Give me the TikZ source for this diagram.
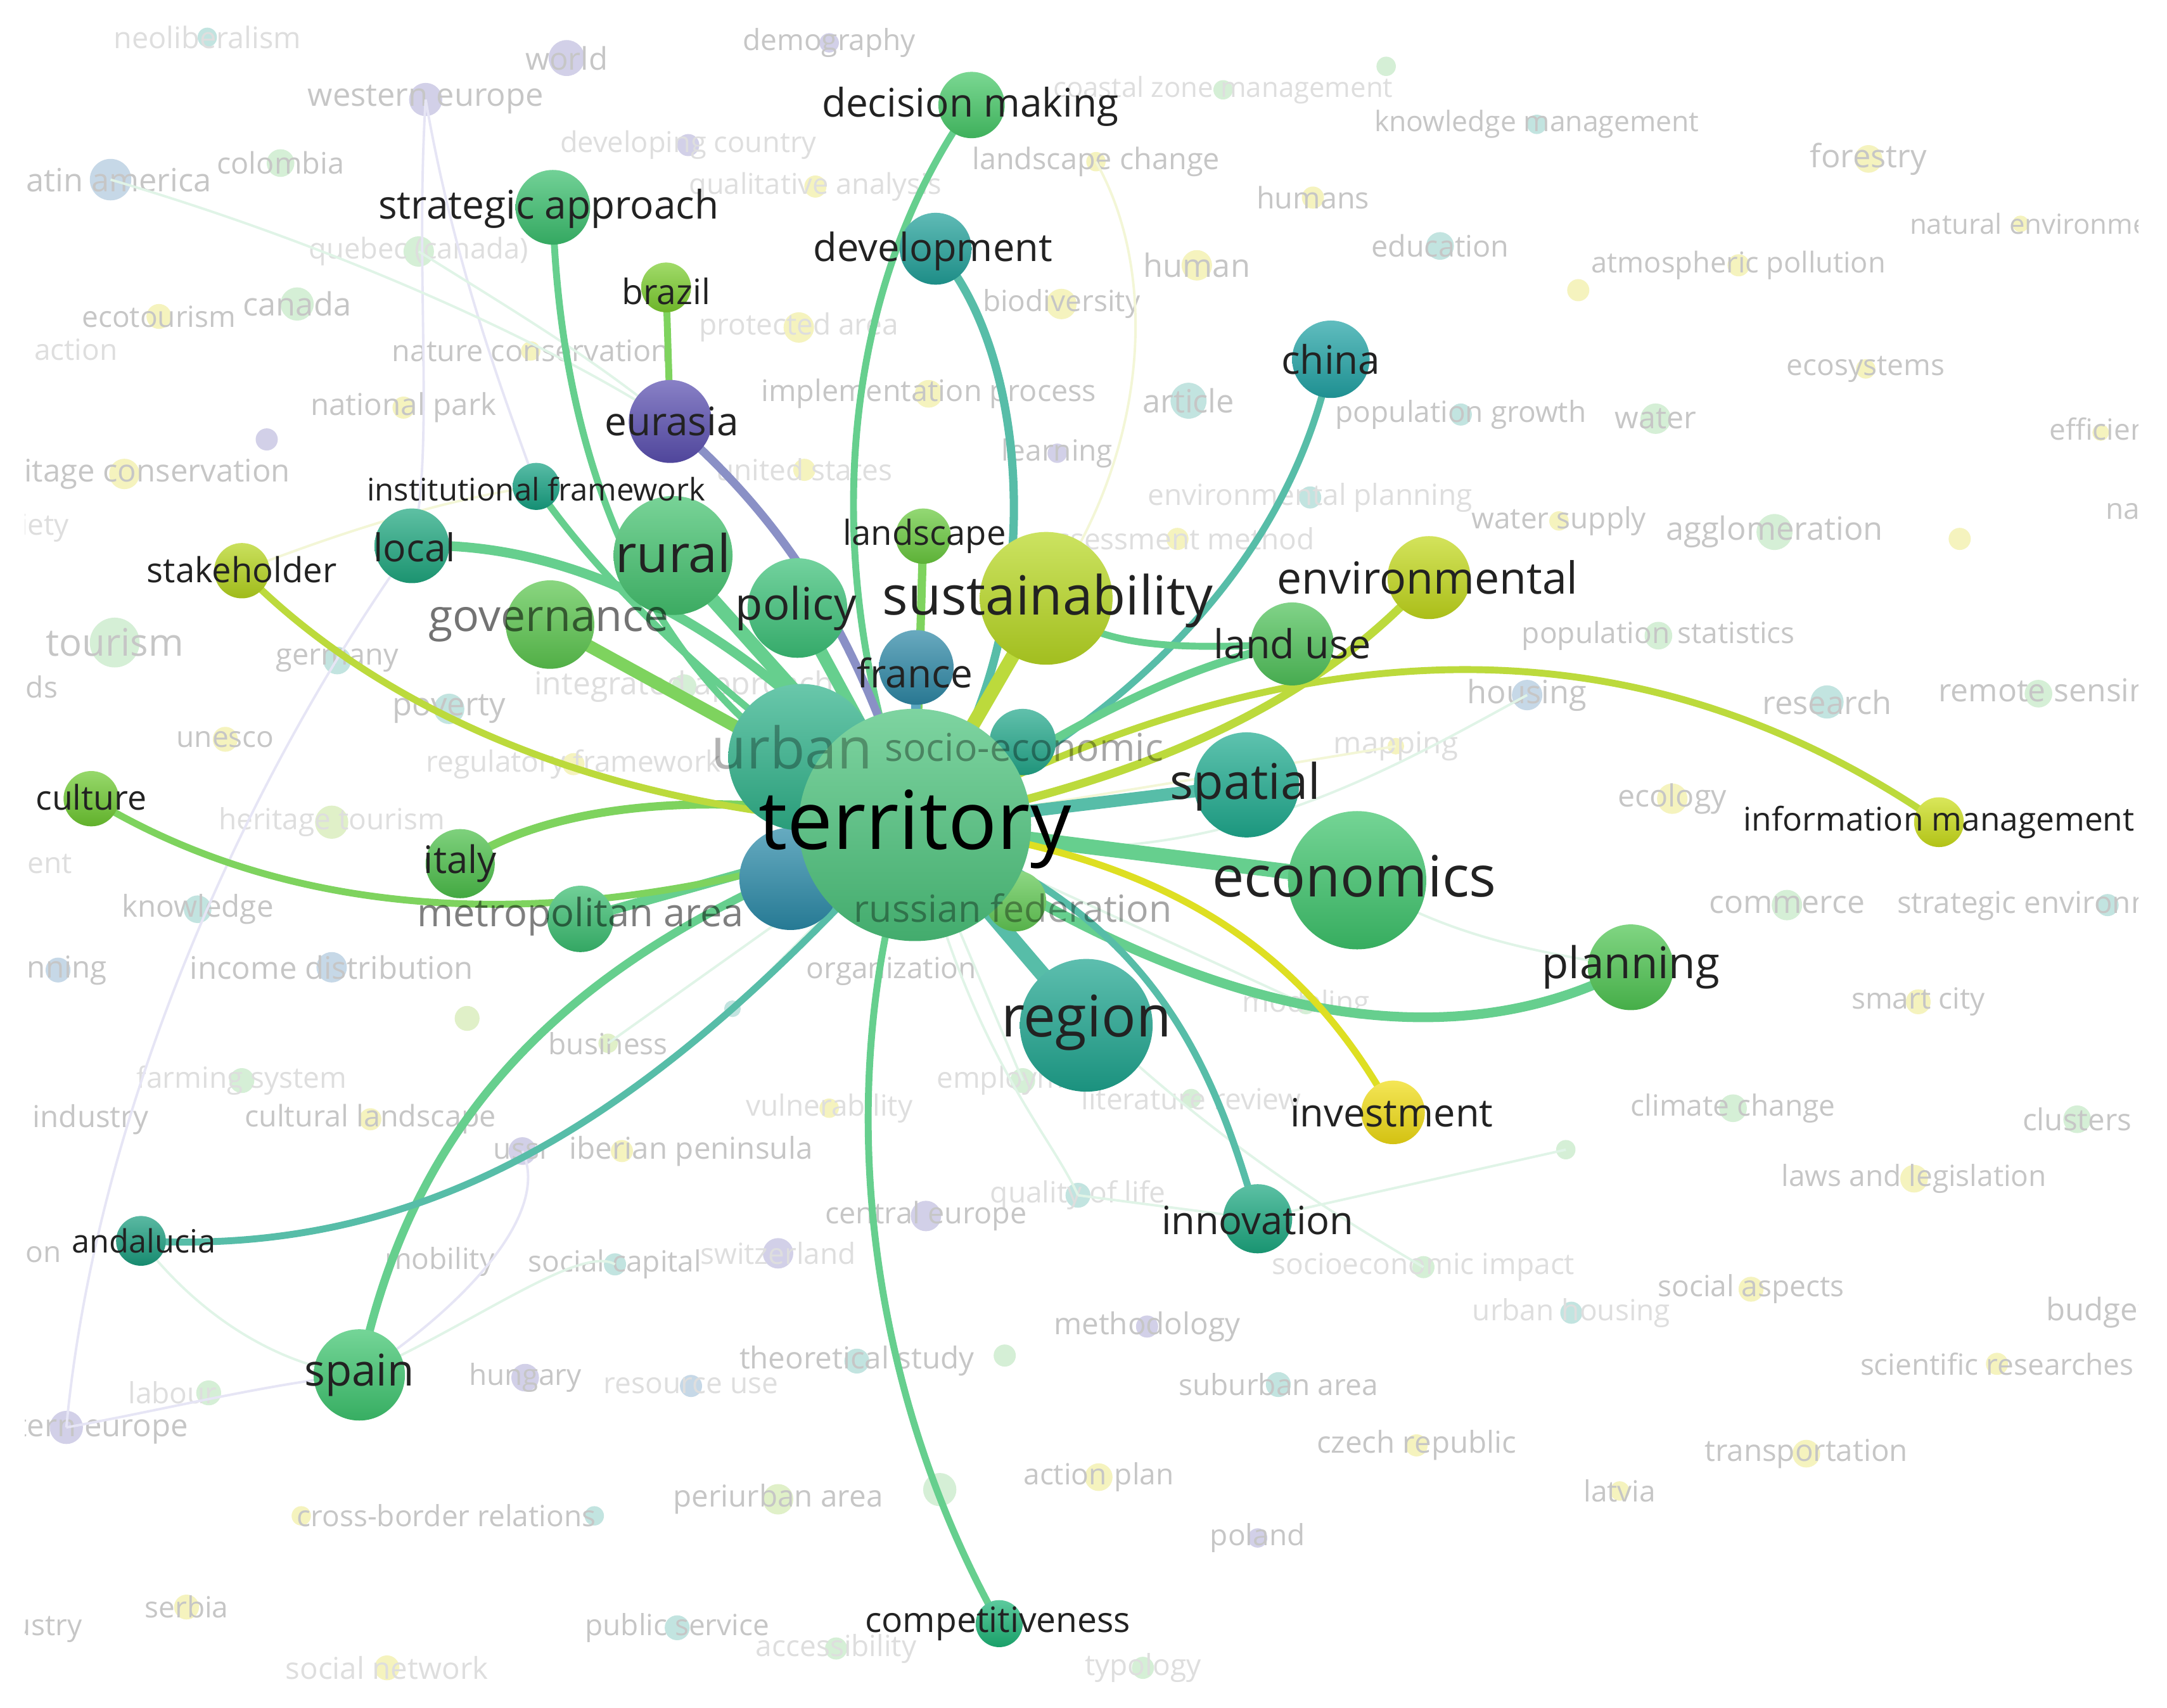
\documentclass[tikz,border=0pt]{standalone}
\usepackage{fontspec}
\setmainfont{Open Sans}
\pgfdeclarelayer{faint}
\pgfdeclarelayer{edges}
\pgfdeclarelayer{labels}
\pgfsetlayers{faint,edges,main,labels}
% node colours
\definecolor{cTer}{HTML}{4CC37C}\definecolor{cUrb}{HTML}{2FB28A}\definecolor{cBlue}{HTML}{2B8AA8}
\definecolor{cFr}{HTML}{2E88A6}\definecolor{cSocio}{HTML}{23A88B}\definecolor{cRus}{HTML}{62C954}
\definecolor{cPol}{HTML}{3CC178}\definecolor{cRur}{HTML}{44C26F}\definecolor{cGov}{HTML}{5CC64F}
\definecolor{cLocal}{HTML}{1FA77F}\definecolor{cInst}{HTML}{17A283}\definecolor{cEur}{HTML}{5A4FB0}
\definecolor{cBraz}{HTML}{7CCD2F}\definecolor{cStrat}{HTML}{3BBF6E}\definecolor{cDec}{HTML}{47C868}
\definecolor{cDev}{HTML}{21A099}\definecolor{cLands}{HTML}{69C93E}\definecolor{cSus}{HTML}{B8D823}
\definecolor{cChina}{HTML}{22A3A5}\definecolor{cEnv}{HTML}{C2D81C}\definecolor{cLU}{HTML}{50C25A}
\definecolor{cSpat}{HTML}{1FAB8F}\definecolor{cEco}{HTML}{3EC46C}\definecolor{cPlan}{HTML}{4FC552}
\definecolor{cInfo}{HTML}{CADD1A}\definecolor{cInv}{HTML}{F0DC14}\definecolor{cInno}{HTML}{1CA880}
\definecolor{cReg}{HTML}{1EA58F}\definecolor{cComp}{HTML}{1DB577}\definecolor{cSpain}{HTML}{3EC56F}
\definecolor{cAnd}{HTML}{1A9D7E}\definecolor{cMetro}{HTML}{3ABD70}\definecolor{cItaly}{HTML}{4CBF4A}
\definecolor{cCult}{HTML}{6EC931}\definecolor{cStake}{HTML}{B5D41E}
% edge colours
\definecolor{eGreen}{HTML}{66CF8E}\definecolor{eTeal}{HTML}{57BDA8}\definecolor{eYG}{HTML}{BCDA3C}
\definecolor{eYel}{HTML}{DEDF22}\definecolor{eLG}{HTML}{7ED35E}\definecolor{ePur}{HTML}{8A90C6}
\definecolor{eBlue}{HTML}{5AA6C0}
% faint colours
\definecolor{fP}{HTML}{D2D0E8}\definecolor{fB}{HTML}{C6D8E7}\definecolor{fT}{HTML}{C2E4E0}
\definecolor{fG}{HTML}{D5EFD6}\definecolor{fL}{HTML}{E0F0C8}\definecolor{fY}{HTML}{F5F3BE}
\definecolor{fPe}{HTML}{E6E5F5}\definecolor{fGe}{HTML}{E0F4E7}\definecolor{fYe}{HTML}{F3F6D6}
\definecolor{fgray}{HTML}{C6C6C6}\definecolor{fgray2}{HTML}{DEDEDE}\definecolor{labc}{HTML}{222222}
\tikzset{
  nd/.style 2 args={circle, inner sep=0pt, minimum size=#2*0.02cm, top color=#1!72!white, bottom color=#1!88!black, draw=none},
  fd/.style 2 args={circle, inner sep=0pt, minimum size=#2*0.02cm, fill=#1, draw=none},
  lab/.style={inner sep=0pt, text=labc, font=\fontsize{#1pt}{#1pt}\selectfont},
  fl/.style={inner sep=0pt, text=fgray, font=\fontsize{#1pt}{#1pt}\selectfont},
  fl/.default=6,
  flx/.style={inner sep=0pt, text=fgray2, font=\fontsize{#1pt}{#1pt}\selectfont},
  flx/.default=6,
  ed/.style 2 args={draw=#1, line width=#2*0.01cm, line cap=round},
  fe/.style={draw=#1, line width=0.5pt},
}
\newcommand{\fkw}[7]{\node[fd={#4}{#5}] (#1) at (#2,#3) {};\node[#6] (#1L) at (#2,#3) {#7};}
\newcommand{\fdt}[5]{\node[fd={#4}{#5}] (#1) at (#2,#3) {};}
\newcommand{\flb}[5]{\node[#4] (#1) at (#2,#3) {#5};}
\begin{document}
\begin{tikzpicture}[x=0.01cm,y=-0.01cm]
\useasboundingbox (0,0) rectangle (1568,1236);
\begin{pgfonlayer}{faint}
\fill[white] (0,0) rectangle (1568,1236);
\begin{scope}
\clip (18,-5) rectangle (1547,1241);
\fkw{neolib}{150}{27}{fT}{7}{flx=6.1}{neoliberalism}
\fkw{world}{410}{42}{fP}{13}{fl=6.4}{world}
\fkw{demog}{600}{31}{fP}{7}{fl=6}{demography}
\fkw{westeu}{308}{72}{fP}{12}{fl=6.6}{western europe}
\fkw{coastal}{885}{65}{fG}{7}{flx=5.7}{coastal zone management}
\fdt{gdotA}{1003}{48}{fG}{7}
\fkw{devcountry}{498}{105}{fP}{8}{flx=5.9}{developing country}
\fkw{landchange}{793}{117}{fY}{7}{fl=6.1}{landscape change}
\fkw{qualan}{590}{135}{fY}{8}{flx=5.9}{qualitative analysis}
\fkw{knowman}{1112}{90}{fT}{7}{fl=5.8}{knowledge management}
\fkw{forestry}{1352}{115}{fY}{10}{fl=6.6}{forestry}
\fdt{latinam}{80}{130}{fB}{15}\flb{latinamL}{83}{130}{fl=6.6}{latin america}
\fkw{colombia}{203}{118}{fG}{10}{fl=6.1}{colombia}
\fdt{natenv}{1462}{162}{fY}{6}\flb{natenvL}{1478}{162}{fl=5.7}{natural environment}
\fkw{quebec}{303}{182}{fG}{11}{flx=5.9}{quebec (canada)}
\fkw{humans}{950}{143}{fY}{8}{fl=6.1}{humans}
\fkw{human}{866}{192}{fY}{11}{fl=6.6}{human}
\fkw{education}{1042}{178}{fT}{10}{fl=6.1}{education}
\fkw{atmos}{1258}{192}{fY}{8}{fl=5.9}{atmospheric pollution}
\fdt{ydotA}{1142}{210}{fY}{8}
\fkw{biodiv}{768}{220}{fY}{11}{fl=6}{biodiversity}
\fkw{protarea}{578}{237}{fY}{11}{flx=6}{protected area}
\fkw{ecotour}{115}{229}{fY}{9}{fl=6}{ecotourism}
\fkw{canada}{215}{220}{fG}{12}{fl=6.6}{canada}
\flb{action}{55}{253}{flx=6}{action}
\fkw{natcons}{384}{254}{fY}{7}{fl=6.1}{nature conservation}
\fkw{natpark}{292}{295}{fY}{8}{fl=6.2}{national park}
\fkw{implproc}{672}{285}{fY}{10}{fl=6.1}{implementation process}
\fkw{article}{860}{290}{fT}{13}{fl=6.6}{article}
\fkw{popgrowth}{1057}{300}{fT}{8}{fl=6}{population growth}
\fkw{water}{1198}{303}{fG}{11}{fl=6.3}{water}
\fkw{ecosys}{1350}{267}{fY}{7}{fl=6}{ecosystems}
\fdt{effic}{1520}{313}{fY}{6}\flb{efficL}{1529}{313}{fl=6}{efficiency}
\fdt{pdotA}{193}{318}{fP}{8}
\fdt{herit}{90}{343}{fY}{11}\flb{heritL}{96}{343}{fl=6.4}{heritage conservation}
\fkw{learning}{765}{328}{fP}{7}{fl=6}{learning}
\fkw{usa}{582}{340}{fY}{8}{flx=6}{united states}
\flb{society}{16}{382}{flx=6}{society}
\fkw{envplan}{948}{360}{fT}{8}{flx=6}{environmental planning}
\fkw{assess}{852}{390}{fY}{8}{flx=6}{assessment method}
\fkw{watsup}{1128}{377}{fY}{7}{fl=6}{water supply}
\fkw{agglom}{1284}{385}{fG}{13}{fl=6.6}{agglomeration}
\fdt{ydotB}{1418}{390}{fY}{8}
\flb{na}{1523}{370}{fl=6, anchor=west}{na}
\fkw{tourism}{83}{465}{fG}{18}{fl=7.8}{tourism}
\fkw{germany}{244}{478}{fT}{10}{fl=6.1}{germany}
\flb{ds}{18}{497}{fl=6, anchor=west}{ds}
\fkw{popstat}{1200}{460}{fG}{10}{fl=6}{population statistics}
\fkw{integr}{495}{497}{fG}{9}{flx=6.5}{integrated approach}
\fkw{poverty}{325}{513}{fT}{11}{fl=6.6}{poverty}
\fkw{housing}{1105}{503}{fB}{11}{fl=6.6}{housing}
\fkw{research}{1322}{508}{fT}{12}{fl=6.6}{research}
\fdt{remsens}{1475}{502}{fG}{10}\flb{remsensL}{1485}{502}{fl=6.5}{remote sensing}
\fkw{unesco}{163}{535}{fY}{9}{fl=6}{unesco}
\fkw{mapping}{1010}{540}{fY}{6}{flx=6.2}{mapping}
\fkw{regfr}{415}{553}{fY}{8}{flx=6}{regulatory framework}
\fkw{hertour}{240}{595}{fL}{12}{flx=6}{heritage tourism}
\fkw{ecology}{1210}{578}{fY}{11}{fl=6.3}{ecology}
\flb{ent}{53}{625}{flx=6, anchor=east}{ent}
\fkw{knowledge}{143}{658}{fT}{10}{fl=6.2}{knowledge}
\fkw{commerce}{1293}{655}{fG}{11}{fl=6.5}{commerce}
\fdt{strenv}{1525}{655}{fT}{8}\flb{strenvL}{1372}{655}{fl=6.2, anchor=west}{strategic environmental assessment}
\fdt{bdotA}{42}{702}{fB}{9}\flb{planB}{78}{702}{fl=6.2, anchor=east}{planning}
\fkw{income}{240}{700}{fB}{11}{fl=6.4}{income distribution}
\fdt{ldotA}{338}{737}{fL}{9}
\fdt{tdotA}{530}{730}{fT}{6}
\fkw{modeling}{945}{727}{fG}{7}{flx=6}{modeling}
\fkw{smartcity}{1388}{725}{fY}{9}{fl=6}{smart city}
\fkw{business}{440}{755}{fL}{7}{fl=6}{business}
\fkw{employment}{740}{782}{fG}{9}{flx=6}{employment}
\fkw{farming}{175}{782}{fG}{9}{flx=6}{farming system}
\fkw{vulner}{600}{802}{fY}{7}{flx=6}{vulnerability}
\fkw{litrev}{862}{795}{fG}{7}{flx=6}{literature review}
\flb{industry}{108}{810}{fl=6.2, anchor=east}{industry}
\fkw{cultland}{268}{810}{fY}{8}{fl=6.1}{cultural landscape}
\fkw{climate}{1254}{802}{fG}{10}{fl=6}{climate change}
\fkw{clusters}{1503}{810}{fG}{10}{fl=6.2}{clusters}
\fkw{ussr}{378}{833}{fP}{10}{fl=6}{ussr}
\fdt{iberd}{450}{833}{fY}{8}\flb{iberL}{500}{833}{fl=6.2}{iberian peninsula}
\fkw{laws}{1385}{853}{fY}{10}{fl=6}{laws and legislation}
\fdt{gdotB}{1133}{832}{fG}{7}
\fkw{qol}{780}{865}{fT}{9}{flx=6}{quality of life}
\fkw{centeu}{670}{880}{fP}{11}{fl=6.1}{central europe}
\fkw{socimp}{1030}{917}{fG}{8}{flx=6}{socioeconomic impact}
\flb{mobility}{318}{913}{fl=6}{mobility}
\fkw{socialcap}{445}{915}{fT}{8}{fl=6}{social capital}
\fkw{switz}{563}{907}{fP}{11}{flx=6}{switzerland}
\flb{on}{45}{908}{fl=6, anchor=east}{on}
\fkw{socasp}{1267}{933}{fY}{9}{fl=6}{social aspects}
\fkw{urbhous}{1137}{950}{fT}{8}{flx=6}{urban housing}
\flb{budget}{1480}{950}{fl=6.4, anchor=west}{budget}
\fkw{method}{830}{960}{fP}{8}{fl=6.2}{methodology}
\fdt{labd}{151}{1008}{fG}{9}\flb{labL}{125}{1008}{flx=6}{labour}
\fkw{hungary}{380}{997}{fP}{10}{fl=6}{hungary}
\fkw{resuse}{500}{1003}{fB}{8}{flx=6}{resource use}
\fkw{theor}{620}{985}{fT}{9}{fl=6.2}{theoretical study}
\fdt{gdotC}{727}{981}{fG}{8}
\fkw{scires}{1445}{987}{fY}{8}{fl=6}{scientific researches}
\fkw{suburb}{925}{1002}{fT}{9}{fl=6}{suburban area}
\fdt{easteu}{48}{1033}{fP}{12}\flb{easteuL}{56}{1035}{fl=6.4}{eastern europe}
\fkw{czech}{1025}{1046}{fY}{8}{fl=6.2}{czech republic}
\fkw{transp}{1307}{1052}{fY}{10}{fl=6.2}{transportation}
\fkw{actplan}{795}{1069}{fY}{10}{fl=6}{action plan}
\fkw{latvia}{1172}{1079}{fY}{7}{fl=6}{latvia}
\fkw{periurb}{563}{1085}{fL}{11}{fl=6.2}{periurban area}
\fdt{gdotD}{680}{1078}{fG}{12}
\fdt{ydotC}{218}{1097}{fY}{7}
\fdt{tdotB}{430}{1097}{fT}{7}
\flb{crossb}{323}{1097}{fl=6}{cross-border relations}
\fkw{poland}{910}{1113}{fP}{7}{fl=6}{poland}
\fkw{serbia}{135}{1163}{fY}{9}{fl=6}{serbia}
\flb{stry}{60}{1178}{fl=6, anchor=east}{industry}
\fkw{pubserv}{490}{1178}{fT}{9}{fl=6}{public service}
\fkw{access}{605}{1193}{fG}{8}{flx=6}{accessibility}
\fkw{socnet}{280}{1207}{fY}{9}{flx=6.2}{social network}
\fkw{typology}{827}{1207}{fG}{8}{flx=6}{typology}
\flb{org}{645}{703}{fl=6}{organization}
\end{scope}
\end{pgfonlayer}
% ---------- main nodes (small to large) ----------
\node[nd={cComp}{17}] (competitiveness) at (723,1175) {};
\node[nd={cInst}{17}] (institutional) at (388,352) {};
\node[nd={cBraz}{18}] (brazil) at (482,208) {};
\node[nd={cAnd}{18}] (andalucia) at (102,898) {};
\node[nd={cInfo}{18}] (infomgmt) at (1403,595) {};
\node[nd={cStake}{20}] (stakeholder) at (175,413) {};
\node[nd={cCult}{20}] (culture) at (66,578) {};
\node[nd={cLands}{20}] (landscape) at (668,388) {};
\node[nd={cRus}{22}] (russian) at (735,652) {};
\node[nd={cInv}{23}] (investment) at (1008,805) {};
\node[nd={cSocio}{24}] (socio) at (740,537) {};
\node[nd={cDec}{24}] (decision) at (703,76) {};
\node[nd={cMetro}{24}] (metro) at (420,665) {};
\node[nd={cItaly}{25}] (italy) at (333,625) {};
\node[nd={cInno}{25}] (innovation) at (910,882) {};
\node[nd={cDev}{26}] (development) at (677,180) {};
\node[nd={cFr}{27}] (france) at (663,483) {};
\node[nd={cLocal}{27}] (local) at (298,395) {};
\node[nd={cStrat}{27}] (strategic) at (400,150) {};
\node[nd={cChina}{28}] (china) at (963,260) {};
\node[nd={cEur}{30}] (eurasia) at (485,305) {};
\node[nd={cEnv}{30}] (environmental) at (1034,418) {};
\node[nd={cLU}{30}] (landuse) at (935,466) {};
\node[nd={cPlan}{31}] (planning) at (1180,700) {};
\node[nd={cGov}{32}] (governance) at (398,452) {};
\node[nd={cSpain}{33}] (spain) at (260,995) {};
\node[nd={cPol}{36}] (policy) at (577,440) {};
\node[nd={cBlue}{37}] (bluenode) at (572,636) {};
\node[nd={cSpat}{38}] (spatial) at (902,568) {};
\node[nd={cRur}{43}] (rural) at (487,402) {};
\node[nd={cSus}{48}] (sustainability) at (757,433) {};
\node[nd={cReg}{48}] (region) at (786,742) {};
\node[nd={cEco}{50}] (economics) at (982,637) {};
\node[nd={cUrb}{53}] (urban) at (580,548) {};
\node[nd={cTer}{84}] (territory) at (662,597) {};
% ---------- edges ----------
\begin{pgfonlayer}{edges}
\begin{scope}
\clip (18,-5) rectangle (1547,1241);
% faint links
\draw[fe=fPe] (westeu.center) .. controls (300,200) and (315,330) .. (local.center);
\draw[fe=fPe] (westeu.center) .. controls (330,200) and (370,300) .. (institutional.center);
\draw[fe=fPe] (easteu.center) .. controls (70,800) and (180,560) .. (local.center);
\draw[fe=fPe] (easteu.center) .. controls (120,1020) and (200,1000) .. (spain.center);
\draw[fe=fGe] (andalucia.center) .. controls (150,960) and (210,990) .. (spain.center);
\draw[fe=fGe] (latinam.center) .. controls (250,180) and (400,250) .. (eurasia.center);
\draw[fe=fGe] (quebec.center) .. controls (380,230) and (430,260) .. (eurasia.center);
\draw[fe=fYe] (stakeholder.center) .. controls (260,380) and (330,360) .. (institutional.center);
\draw[fe=fPe] (spain.center) .. controls (330,950) and (400,880) .. (ussr.center);
\draw[fe=fGe] (spain.center) .. controls (340,960) and (420,900) .. (socialcap.center);
\draw[fe=fYe] (landchange.center) .. controls (840,200) and (830,330) .. (sustainability.center);
\draw[fe=fGe] (territory.center) -- (business.center);
\draw[fe=fGe] (territory.center) -- (employment.center);
\draw[fe=fGe] (territory.center) .. controls (700,760) and (760,820) .. (qol.center);
\draw[fe=fGe] (territory.center) -- (modeling.center);
\draw[fe=fYe] (territory.center) -- (mapping.center);
\draw[fe=fGe] (territory.center) .. controls (850,650) and (1000,560) .. (housing.center);
\draw[fe=fGe] (innovation.center) -- (qol.center);
\draw[fe=fGe] (innovation.center) -- (gdotB.center);
\draw[fe=fGe] (territory.center) .. controls (800,780) and (950,870) .. (socimp.center);
\draw[fe=fGe] (economics.center) .. controls (1050,680) and (1120,690) .. (planning.center);
\draw[fe=fGe] (territory.center) -- (tdotA.center);
% main links
\draw[ed={eGreen}{5}] (territory.center) .. controls (595,430) and (600,220) .. (decision.center);
\draw[ed={eTeal}{6}] (territory.center) .. controls (760,470) and (750,260) .. (development.center);
\draw[ed={eTeal}{5}] (territory.center) .. controls (800,530) and (930,420) .. (china.center);
\draw[ed={eGreen}{5}] (territory.center) .. controls (480,530) and (405,350) .. (strategic.center);
\draw[ed={ePur}{6}] (eurasia.center) .. controls (560,370) and (620,450) .. (territory.center);
\draw[ed={eLG}{5}] (brazil.center) -- (eurasia.center);
\draw[ed={eGreen}{5}] (institutional.center) .. controls (440,430) and (560,540) .. (territory.center);
\draw[ed={eGreen}{7}] (local.center) .. controls (430,390) and (560,470) .. (territory.center);
\draw[ed={eGreen}{10}] (rural.center) -- (territory.center);
\draw[ed={eLG}{9}] (governance.center) -- (territory.center);
\draw[ed={eGreen}{9}] (policy.center) -- (territory.center);
\draw[ed={eYG}{10}] (sustainability.center) -- (territory.center);
\draw[ed={eLG}{6}] (landscape.center) -- (territory.center);
\draw[ed={eBlue}{7}] (france.center) -- (territory.center);
\draw[ed={eTeal}{8}] (socio.center) -- (territory.center);
\draw[ed={eYG}{6}] (environmental.center) .. controls (960,500) and (850,560) .. (territory.center);
\draw[ed={eGreen}{6}] (landuse.center) .. controls (860,480) and (780,520) .. (territory.center);
\draw[ed={eGreen}{5}] (landuse.center) .. controls (850,470) and (790,470) .. (sustainability.center);
\draw[ed={eYG}{5}] (infomgmt.center) .. controls (1200,455) and (960,440) .. (territory.center);
\draw[ed={eTeal}{9}] (spatial.center) -- (territory.center);
\draw[ed={eGreen}{11}] (economics.center) -- (territory.center);
\draw[ed={eGreen}{7}] (planning.center) .. controls (1050,770) and (870,740) .. (territory.center);
\draw[ed={eYel}{5}] (investment.center) .. controls (950,700) and (860,620) .. (territory.center);
\draw[ed={eTeal}{5}] (innovation.center) .. controls (880,780) and (840,660) .. (territory.center);
\draw[ed={eTeal}{11}] (region.center) -- (territory.center);
\draw[ed={eLG}{7}] (russian.center) -- (territory.center);
\draw[ed={eGreen}{5}] (competitiveness.center) .. controls (625,1000) and (600,780) .. (territory.center);
\draw[ed={eGreen}{6}] (spain.center) .. controls (300,800) and (420,680) .. (territory.center);
\draw[ed={eTeal}{5}] (andalucia.center) .. controls (320,910) and (480,800) .. (territory.center);
\draw[ed={eGreen}{7}] (metro.center) -- (territory.center);
\draw[ed={eLG}{6}] (italy.center) .. controls (400,580) and (520,570) .. (territory.center);
\draw[ed={eLG}{5}] (culture.center) .. controls (200,660) and (400,690) .. (territory.center);
\draw[ed={eYG}{5}] (stakeholder.center) .. controls (280,520) and (450,590) .. (territory.center);
\draw[ed={eTeal}{6}] (urban.center) -- (territory.center);
\draw[ed={eBlue}{6}] (bluenode.center) -- (territory.center);
\end{scope}
\end{pgfonlayer}
% ---------- labels ----------
\begin{pgfonlayer}{labels}
\node[lab=11.8, text=black, text opacity=0.3] (urbanL) at (573,541) {urban};
\node[lab=7.9, text=black, text opacity=0.35] (socioL) at (741,541) {socio-economic};
\node[lab=7.7, text=black, text opacity=0.35] (russianL) at (733,657) {russian federation};
\node[lab=9.1, text=black, text opacity=0.55] (governanceL) at (397,452) {governance};
\node[lab=8, text=black, text opacity=0.5] (metroL) at (420,663) {metropolitan area};
\node[lab=16.7, text=black] (territoryL) at (662,600) {territory};
\node[lab=8.1] (franceL) at (662,487) {france};
\node[lab=9.2] (policyL) at (576,440) {policy};
\node[lab=11.1] (sustainabilityL) at (758,435) {sustainability};
\node[lab=10.7] (ruralL) at (487,400) {rural};
\node[lab=7.9] (localL) at (300,396) {local};
\node[lab=6.4] (institutionalL) at (388,354) {institutional framework};
\node[lab=8.1] (eurasiaL) at (486,305) {eurasia};
\node[lab=7.2] (brazilL) at (482,211) {brazil};
\node[lab=8.1] (strategicL) at (397,151) {strategic approach};
\node[lab=8.1] (decisionL) at (702,77) {decision making};
\node[lab=8.0] (developmentL) at (675,182) {development};
\node[lab=7.1] (landscapeL) at (669,388) {landscape};
\node[lab=8.1] (chinaL) at (963,260) {china};
\node[lab=9.1] (environmentalL) at (1033,418) {environmental};
\node[lab=8.2] (landuseL) at (935,466) {land use};
\node[lab=10.1] (spatialL) at (901,569) {spatial};
\node[lab=11.7] (economicsL) at (980,634) {economics};
\node[lab=9.0] (planningL) at (1180,700) {planning};
\node[lab=6.7] (infomgmtL) at (1403,595) {information management};
\node[lab=8.0] (investmentL) at (1007,805) {investment};
\node[lab=8.0] (innovationL) at (910,883) {innovation};
\node[lab=11.8] (regionL) at (786,740) {region};
\node[lab=7.2] (competitivenessL) at (722,1175) {competitiveness};
\node[lab=9.0] (spainL) at (260,995) {spain};
\node[lab=6.6] (andaluciaL) at (104,898) {andalucia};
\node[lab=7.8] (italyL) at (333,625) {italy};
\node[lab=7.0] (cultureL) at (66,577) {culture};
\node[lab=7.1] (stakeholderL) at (175,412) {stakeholder};
\end{pgfonlayer}
\end{tikzpicture}
\end{document}
